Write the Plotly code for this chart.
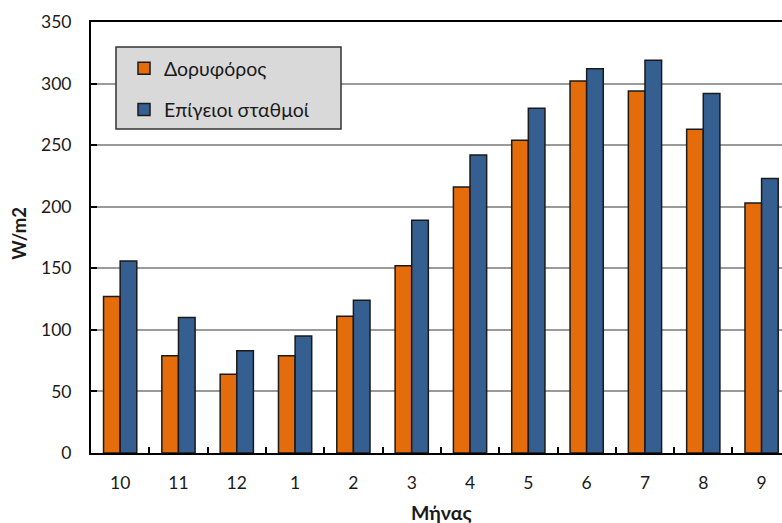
import plotly.graph_objects as go

# Monthly mean values (W/m2), hydrological year order
months = ["10", "11", "12", "1", "2", "3", "4", "5", "6", "7", "8", "9"]
satellite = [127, 79, 64, 79, 111, 152, 216, 254, 302, 294, 263, 203]
ground = [156, 110, 83, 95, 124, 189, 242, 280, 312, 319, 292, 223]
y_ticks = [0, 50, 100, 150, 200, 250, 300, 350]

FONT = "Lato, 'Open Sans', sans-serif"
ORANGE = "#E46C0A"
BLUE = "#365F91"
EDGE = "#1a1a1a"

# plot-area geometry in pixels (used for paper-coordinate placement)
L, T, W, H = 91, 22, 691, 431.3
B = T + H


def px_x(x):
    return (x - L) / W


def px_y(y):
    return (B - y) / H


fig = go.Figure()
fig.add_trace(go.Bar(x=months, y=satellite, name="Δορυφόρος", legendgroup="a",
                     marker=dict(color=ORANGE, line=dict(color=EDGE, width=1.5))))
fig.add_trace(go.Bar(x=months, y=ground, name="Επίγειοι σταθμοί", legendgroup="b",
                     marker=dict(color=BLUE, line=dict(color=EDGE, width=1.5))))

fig.update_layout(
    width=782, height=523,
    margin=dict(l=L, r=0, t=T, b=70),
    paper_bgcolor="white", plot_bgcolor="white",
    font=dict(family=FONT, size=17.5, color="#1a1a1a"),
    barmode="group", bargap=0.43, bargroupgap=0,
    showlegend=True,
    legend=dict(x=px_x(124), y=px_y(49), xanchor="left", yanchor="top",
                bgcolor="rgba(0,0,0,0)", borderwidth=0,
                font=dict(family=FONT, size=19.5, color="#1a1a1a"),
                traceorder="grouped", tracegroupgap=13),
    xaxis=dict(type="category", range=[-0.5, 11.35],
               showline=True, linecolor="black", linewidth=2, mirror=True,
               ticks="inside", ticklen=6, tickcolor="black", tickwidth=1.5,
               tickson="boundaries", showgrid=False,
               ticklabelstandoff=13),
    yaxis=dict(range=[0, 350], tickvals=y_ticks,
               showline=True, linecolor="black", linewidth=2, mirror=False,
               ticks="inside", ticklen=6, tickcolor="black", tickwidth=1.5,
               showgrid=True, gridcolor="#9a9a9a", gridwidth=1.5,
               zeroline=False, ticklabelstandoff=14),
    shapes=[dict(type="rect", xref="paper", yref="paper",
                 x0=px_x(116), x1=px_x(341), y0=px_y(129), y1=px_y(47),
                 fillcolor="#d9d9d9", line=dict(color="#333333", width=1.5),
                 layer="above")],
    annotations=[
        dict(text="<b>W/m2</b>", xref="paper", yref="paper", x=px_x(19),
             y=px_y(234), xanchor="center", yanchor="middle", textangle=-90,
             showarrow=False, font=dict(family=FONT, size=18.5)),
        dict(text="<b>Μήνας</b>", xref="paper", yref="paper", x=px_x(441),
             y=px_y(513), xanchor="center", yanchor="middle",
             showarrow=False, font=dict(family=FONT, size=19.5)),
    ],
)

fig.write_html("out.html")
